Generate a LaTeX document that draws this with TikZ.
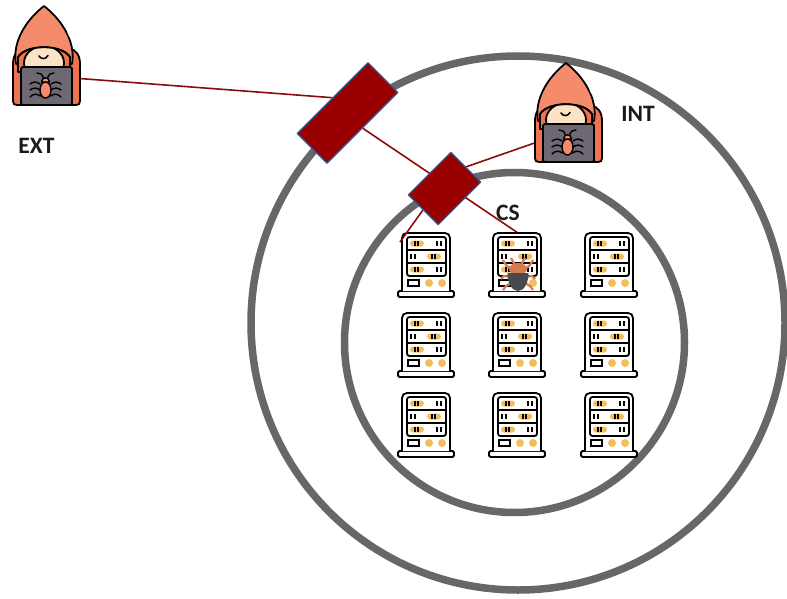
\documentclass[tikz,border=0pt]{standalone}
\usepackage{fontspec}
\setmainfont{Carlito}
\definecolor{ringgray}{HTML}{676767}
\definecolor{linkred}{HTML}{8E0B0B}
\definecolor{fwred}{HTML}{990000}
\definecolor{fwblue}{HTML}{2F5490}
\definecolor{hoodpink}{HTML}{F68B6B}
\definecolor{hoodorange}{HTML}{EE7450}
\definecolor{skin}{HTML}{FDE3C6}
\definecolor{laptopgray}{HTML}{6E6872}
\definecolor{slotgold}{HTML}{F4BD5A}
\definecolor{bugbody}{HTML}{46494F}
\definecolor{bughead}{HTML}{D77A4E}
\definecolor{textblack}{HTML}{1A1A1A}
\pgfdeclarelayer{zones}
\pgfdeclarelayer{links}
\pgfsetlayers{zones,links,main}
\begin{document}
\begin{tikzpicture}[x=1pt, y=-1pt, line join=round, line cap=round,
  ring/.style={draw=ringgray, line width=7.5pt},
  link/.style={draw=linkred, line width=1.6pt},
  firewall/.style={rectangle, fill=fwred, draw=fwblue, line width=1.3pt, rotate=45, inner sep=0pt},
  srvslot/.style={rectangle, minimum width=56pt, minimum height=65pt, inner sep=0pt},
  zonelabel/.style={font=\fontsize{23.5}{24}\selectfont\bfseries, text=textblack, inner sep=0pt},
  ink/.style={draw=black, line width=1.8pt},
  thinink/.style={draw=black, line width=1.4pt},
  bugleg/.style={draw=bughead, line width=2.2pt},
  % hooded attacker behind a laptop
  hacker/.pic={
    \path[ink, fill=hoodorange] (13,101) -- (13,64) .. controls (13,55) and (17,50) .. (24,48)
      -- (69,48) .. controls (76,50) and (80,55) .. (80,64) -- (80,101)
      .. controls (80,104) and (79,105) .. (76,105) -- (17,105)
      .. controls (14,105) and (13,104) .. (13,101) -- cycle;
    \path[ink, fill=hoodpink] (16,64) .. controls (12,42) and (26,20) .. (44,6)
      .. controls (62,20) and (76,42) .. (72,64) -- cycle;
    \draw[white, line width=1.2pt] (63,22) -- (66,27) (68,32) -- (69.5,36);
    \path[ink, fill=hoodorange] (18,72) -- (18,57) .. controls (26,44) and (62,44) .. (70,57) -- (70,72) -- cycle;
    \begin{scope}
      \clip (18,57) .. controls (26,44) and (62,44) .. (70,57) -- (70,72) -- (18,72) -- cycle;
      \path[ink, fill=skin] (44,63) ellipse [x radius=20, y radius=17];
    \end{scope}
    \draw[ink] (18,57) .. controls (26,44) and (62,44) .. (70,57);
    \draw[ink, line width=1.5pt] (39,56) .. controls (41,59.5) and (46,59.5) .. (48,55.5);
    \path[ink, fill=laptopgray, rounded corners=2pt] (21,67) rectangle (72,105);
    \draw[thinink] (40,84) .. controls (36,81) and (33,82) .. (30,84)
                   (40,90) .. controls (36,87) and (33,88) .. (30,90)
                   (40.5,96) .. controls (36,93) and (33,94) .. (30,97)
                   (51,84) .. controls (55,81) and (58,82) .. (61,84)
                   (51,90) .. controls (55,87) and (58,88) .. (61,90)
                   (50.5,96) .. controls (55,93) and (58,94) .. (61,97)
                   (43.5,78) .. controls (42,74) and (40,73) .. (37,73)
                   (47.5,78) .. controls (49,74) and (51,73) .. (54,73);
    \path[thinink, fill=hoodpink] (45.5,90) ellipse [x radius=5.5, y radius=8];
    \path[thinink, fill=hoodpink] (41.5,82) .. controls (41.5,76.5) and (49.5,76.5) .. (49.5,82) -- cycle;
  },
  % rack server
  server/.pic={
    \path[ink, fill=white, rounded corners=1.5pt] (-28,26) rectangle (28,32);
    \fill[white] (-24,26) -- (-24,-27) .. controls (-24,-30) and (-22,-32) .. (-19,-32)
      -- (19,-32) .. controls (22,-32) and (24,-30) .. (24,-27) -- (24,26) -- cycle;
    \draw[ink] (-24,26) -- (-24,-27) .. controls (-24,-30) and (-22,-32) .. (-19,-32)
      -- (19,-32) .. controls (22,-32) and (24,-30) .. (24,-27) -- (24,26);
    \path[ink, rounded corners=2.5pt] (-19,-28) rectangle (20,11);
    \draw[ink] (-19,-15) -- (20,-15) (-19,-2) -- (20,-2);
    \fill[slotgold, rounded corners=3pt] (-16,-24.5) rectangle (-2,-18.5)
                                         (1,-11.5) rectangle (15,-5.5)
                                         (-16,1.5) rectangle (-2,7.5);
    \draw[black, line width=1.3pt] (-11,-24) -- (-11,-19) (-8,-24) -- (-8,-19)
                                   (11,-24) -- (11,-19) (15,-24) -- (15,-19)
                                   (-15,-11) -- (-15,-6) (-11,-11) -- (-11,-6)
                                   (6,-11) -- (6,-6) (9,-11) -- (9,-6)
                                   (-11,2) -- (-11,7) (-8,2) -- (-8,7)
                                   (11,2) -- (11,7) (15,2) -- (15,7);
    \draw[black, line width=1.4pt] (-18,15) rectangle (-7,21);
    \fill[slotgold] (3,18) circle [radius=4] (16,18) circle [radius=4];
  },
  % malware bug sitting on a server
  bug/.pic={
    \draw[bugleg] (-6,-3) -- (-12,-8) -- (-15,-13)
                  (-8,4) -- (-14,3) -- (-17,6)
                  (-7,10) -- (-12,13) -- (-15,17)
                  (6,-3) -- (12,-8) -- (15,-13)
                  (8,4) -- (14,3) -- (17,6)
                  (7,10) -- (12,13) -- (15,17)
                  (-3,-8) -- (-7,-15)
                  (3,-8) -- (7,-15);
    \fill[bughead] (0,-4) ellipse [x radius=9, y radius=6];
    \fill[bugbody] (-10.5,0) .. controls (-10.5,10) and (-6,18) .. (0,18)
                   .. controls (6,18) and (10.5,10) .. (10.5,0) -- cycle;
  }
]
\useasboundingbox (0,0) rectangle (787,599);

\begin{pgfonlayer}{zones}
  \fill[white] (0,0) rectangle (787,599);
  % security zones
  \draw[ring] (518,323) circle [radius=267];
  \draw[ring] (514.5,342.5) circle [radius=170];
  % server farm
  \foreach \r/\yy in {1/265, 2/345, 3/425} {
    \foreach \c/\xx in {1/426, 2/517, 3/609} {
      \node[srvslot] (s\r\c) at (\xx,\yy) {};
      \pic at (s\r\c.center) {server};
    }
  }
  \pic at (518,273) {bug};
\end{pgfonlayer}

% link end points at the attackers and inside the server zone
\coordinate (extport) at (73,78);
\coordinate (intport) at (546,139);
\coordinate (cstap) at (400,242);

% firewalls
\node[firewall, minimum width=100pt, minimum height=42pt] (fw1) at (347.5,113) {};
\node[firewall, minimum width=60pt, minimum height=42pt] (fw2) at (444.5,188.5) {};

% connections, kept under the firewalls
\begin{pgfonlayer}{links}
  \draw[link] (extport) -- (fw1.north);
  \draw[link] (fw1.south) -- (s12.north);
  \draw[link] (fw2.east) -- (intport);
  \draw[link] (fw2.west) -- (cstap);
\end{pgfonlayer}

% attackers
\pic at (0,0) {hacker};
\pic at (522,57) {hacker};

\node[zonelabel] (extlabel) at (36.5,145.5) {EXT};
\node[zonelabel] (intlabel) at (638,114) {INT};
\node[zonelabel] (cslabel) at (508,212.5) {CS};
\end{tikzpicture}
\end{document}
